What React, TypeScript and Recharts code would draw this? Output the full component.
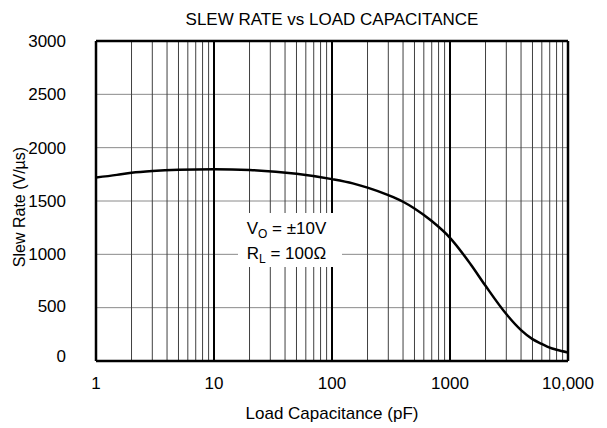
import { Line, LineChart, ReferenceLine, XAxis, YAxis } from "recharts";

const capacitance = [1, 1.5, 2, 3, 5, 10, 20, 50, 100, 150, 200, 300, 400, 500, 700, 1000, 1500, 2000, 3000, 4000, 5000, 6000, 7000, 8000, 10000];
const slewRate = [1720, 1745, 1765, 1782, 1793, 1797, 1790, 1755, 1705, 1665, 1625, 1555, 1493, 1430, 1312, 1155, 905, 705, 440, 290, 205, 160, 125, 105, 80];

const xTicks = [1, 10, 100, 1000, 10000];
const yTicks = [0, 500, 1000, 1500, 2000, 2500, 3000];
const decades = [1, 10, 100, 1000];
const minorSteps = [2, 3, 4, 5, 6, 7, 8, 9];

const data = capacitance.map((c, i) => ({ c, sr: slewRate[i] }));
const minorX = decades.flatMap((d) => minorSteps.map((m) => d * m));

const font = '"Liberation Sans", Arial, sans-serif';

const YTick = ({ x, y, payload }: any) => {
  // labels near the bottom sit a little above their gridlines in the original
  const lift = payload.value === 0 ? 5 : payload.value === 500 ? 2 : 0;
  return (
    <text x={x} y={y - lift} dy="0.355em" textAnchor="end" fill="#000" fontSize={17} fontFamily={font}>
      {payload.value}
    </text>
  );
};

export default function App() {
  const tickStyle = { fill: "#000", fontSize: 17, fontFamily: font };
  return (
    <div style={{ position: "absolute", left: 0, top: 0, width: 607, height: 428, background: "#fff", fontFamily: font }}>
      <LineChart width={607} height={428} data={data} margin={{ top: 41, right: 39, bottom: 0, left: 0 }}>
        <XAxis
          dataKey="c"
          type="number"
          scale="log"
          domain={[1, 10000]}
          ticks={xTicks}
          allowDataOverflow
          axisLine={false}
          tickLine={false}
          tickSize={0}
          tickMargin={16}
          height={67}
          tick={tickStyle}
          tickFormatter={(v: number) => (v === 10000 ? "10,000" : String(v))}
        />
        <YAxis
          type="number"
          domain={[0, 3000]}
          ticks={yTicks}
          axisLine={false}
          tickLine={false}
          tickSize={0}
          tickMargin={30}
          width={96}
          tick={<YTick />}
        />
        {yTicks.slice(1, -1).map((v) => (
          <ReferenceLine key={"h" + v} y={v} stroke="#8a8a8a" strokeWidth={1} />
        ))}
        {minorX.map((v) => (
          <ReferenceLine key={"m" + v} x={v} stroke="#404040" strokeWidth={1} />
        ))}
        {xTicks.slice(1, -1).map((v) => (
          <ReferenceLine key={"d" + v} x={v} stroke="#000" strokeWidth={2} />
        ))}
        <ReferenceLine x={1} stroke="#000" strokeWidth={2.5} />
        <ReferenceLine x={10000} stroke="#000" strokeWidth={2.5} />
        <ReferenceLine y={0} stroke="#000" strokeWidth={2.5} />
        <ReferenceLine y={3000} stroke="#000" strokeWidth={2.5} />
        <Line
          dataKey="sr"
          type="monotone"
          stroke="#000"
          strokeWidth={2.5}
          dot={false}
          isAnimationActive={false}
        />
      </LineChart>
      <div style={{ position: "absolute", left: 0, width: 607, top: 9, textAlign: "center", fontSize: 17, lineHeight: "22px", paddingLeft: 57, boxSizing: "border-box" }}>
        SLEW RATE vs LOAD CAPACITANCE
      </div>
      <div style={{ position: "absolute", left: 96, width: 472, top: 403, textAlign: "center", fontSize: 17, lineHeight: "22px" }}>
        Load Capacitance (pF)
      </div>
      <div style={{ position: "absolute", left: 20 - 100, top: 207 - 11, width: 200, textAlign: "center", fontSize: 16, lineHeight: "22px", transform: "rotate(-90deg)" }}>
        Slew Rate (V/µs)
      </div>
      <div style={{ position: "absolute", left: 238, top: 213, width: 104, height: 54, background: "#fff", fontSize: 17, lineHeight: "23px", paddingTop: 4, boxSizing: "border-box" }}>
        <div style={{ textAlign: "center", paddingRight: 7 }}>
          V<span style={{ fontSize: 12, position: "relative", top: 4 }}>O</span> = ±10V
        </div>
        <div style={{ textAlign: "center", paddingRight: 7 }}>
          R<span style={{ fontSize: 12, position: "relative", top: 4 }}>L</span> = 100Ω
        </div>
      </div>
    </div>
  );
}
